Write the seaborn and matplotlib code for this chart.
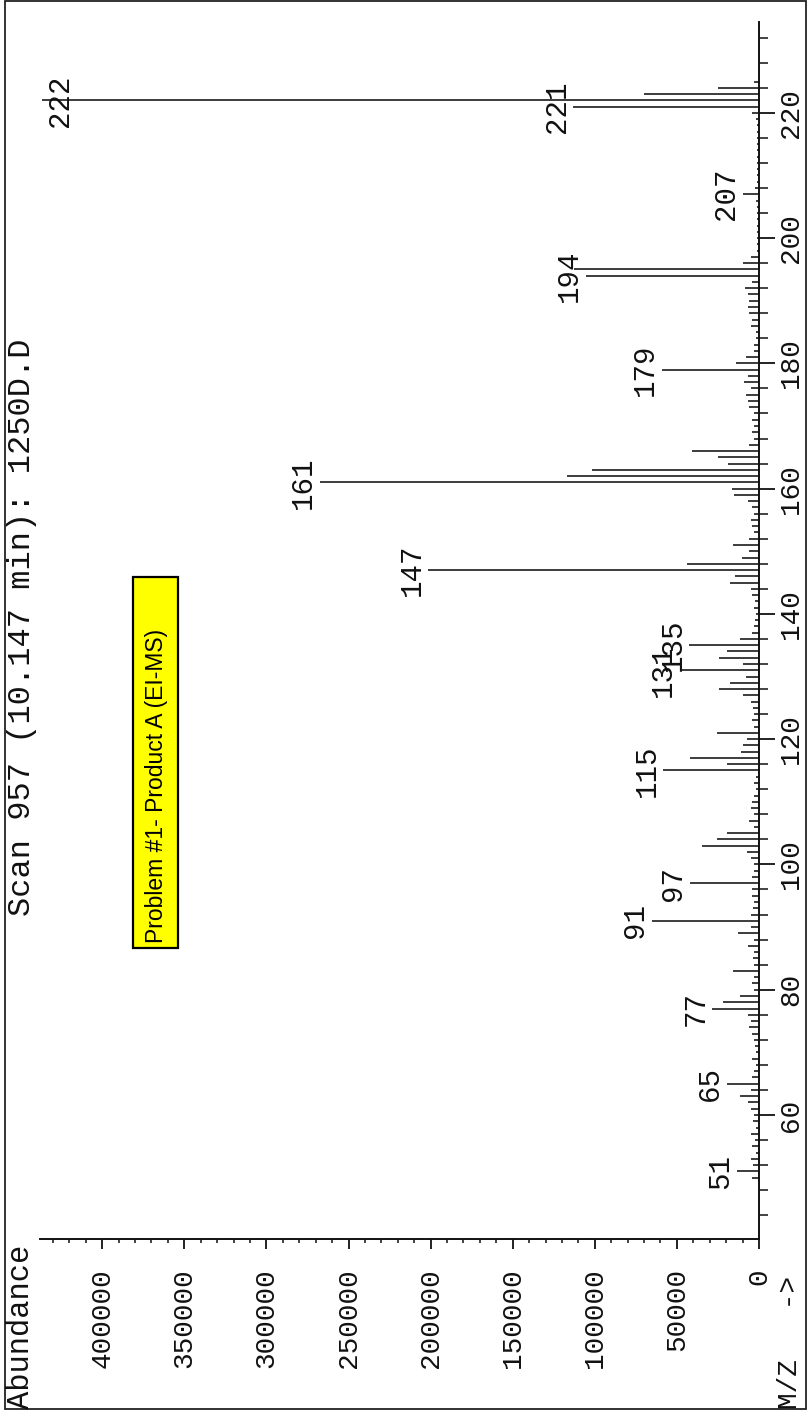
import numpy as np
import pandas as pd
import matplotlib
matplotlib.use("Agg")
import matplotlib.pyplot as plt
from matplotlib.patches import Rectangle
from matplotlib.ticker import MultipleLocator, FixedLocator
import seaborn as sns

# ---- data ----
mz = [50, 51, 52, 53, 54, 55, 56, 57, 58, 59, 60, 61, 62, 63, 64, 65, 66, 67, 68, 69,
      70, 71, 72, 73, 74, 75, 76, 77, 78, 79, 80, 81, 82, 83, 84, 85, 86, 87, 88, 89,
      90, 91, 92, 93, 94, 95, 96, 97, 98, 99, 100, 101, 102, 103, 104, 105, 106, 107, 108, 109,
      110, 111, 112, 113, 114, 115, 116, 117, 118, 119, 120, 121, 122, 123, 124, 125, 126, 127, 128, 129,
      130, 131, 132, 133, 134, 135, 136, 137, 138, 139, 140, 141, 142, 143, 144, 145, 146, 147, 148, 149,
      150, 151, 152, 153, 154, 155, 156, 157, 158, 159, 160, 161, 162, 163, 164, 165, 166, 167, 168, 169,
      170, 171, 172, 173, 174, 175, 176, 177, 178, 179, 180, 181, 182, 183, 184, 185, 186, 187, 188, 189,
      190, 191, 192, 193, 194, 195, 196, 197, 198, 199, 200, 201, 202, 203, 204, 205, 206, 207, 208, 209,
      210, 211, 212, 213, 214, 215, 216, 217, 218, 219, 220, 221, 222, 223, 224, 225]
abundance = [4500, 13600, 3500, 5000, 2000, 4000, 2500, 5000, 2000, 3500,
             3000, 5000, 6500, 11600, 5000, 19700, 4000, 3000, 2000, 4000,
             2000, 2500, 3000, 4500, 6000, 5000, 6500, 28500, 21700, 11600,
             3000, 4000, 3000, 15600, 3000, 3500, 3000, 7000, 3000, 12600,
             5000, 65300, 5000, 3500, 3000, 4500, 4000, 42000, 4000, 3000,
             3000, 5000, 7500, 35000, 25800, 19700, 3000, 6000, 3000, 5000,
             4000, 3000, 2000, 3000, 2000, 58300, 19700, 42000, 11000, 9700,
             7500, 25800, 3000, 4000, 3000, 3500, 5000, 9500, 24200, 17700,
             8000, 48100, 9500, 24200, 19700, 42400, 11600, 4000, 3000, 2500,
             2000, 3000, 2500, 4000, 5000, 17700, 14600, 201400, 44000, 10500,
             6000, 15600, 6000, 3000, 4000, 5000, 3000, 4000, 7000, 15000,
             16600, 267400, 116700, 101900, 18800, 25000, 41000, 6000, 3000, 4000,
             3000, 4000, 3000, 6000, 7000, 8000, 5000, 9000, 7000, 59300,
             14000, 8000, 3000, 3000, 2000, 2000, 5000, 4000, 6000, 7000,
             6000, 7000, 8500, 4000, 105400, 112500, 9700, 5000, 1500, 1000,
             1000, 1000, 1000, 1000, 1000, 1500, 2000, 9700, 2500, 1000,
             1000, 1000, 1000, 1000, 1000, 1000, 1000, 1000, 1500, 2000,
             4000, 113100, 436500, 69900, 25000, 3000]
label_mz = [51, 65, 77, 91, 97, 115, 131, 135, 147, 161, 179, 194, 207, 221, 222]
abund_ticks = [0, 50000, 100000, 150000, 200000, 250000, 300000, 350000, 400000]
mz_ticks = [60, 80, 100, 120, 140, 160, 180, 200, 220]

title = "Scan 957 (10.147 min): 1250D.D"
box_text = "Problem #1- Product A (EI-MS)"

df = pd.DataFrame({"mz": mz, "abundance": abundance})

sns.set_theme(style="ticks")
plt.rcParams["font.family"] = ["Liberation Mono", "DejaVu Sans Mono"]

W, H = 808, 1416
fig = plt.figure(figsize=(W / 100, H / 100), dpi=100)
fig.patch.set_facecolor("white")

def fx(px):
    return px / W

def fy(py):
    return 1 - py / H

ax = fig.add_axes([fx(40), fy(1239), fx(759) - fx(40), fy(22) - fy(1239)])
ax.set_facecolor("white")

# peaks as horizontal sticks (spectrum rotated 90 deg CCW)
ax.hlines(df["mz"], 0, df["abundance"], color="#111111", lw=1.15)

XMAX = 437900
ax.set_xlim(XMAX, 0)
ax.set_ylim(40.2, 234.5)

for s in ["top", "left"]:
    ax.spines[s].set_visible(False)
for s in ["bottom", "right"]:
    ax.spines[s].set_linewidth(1.4)
    ax.spines[s].set_color("#111111")

ax.yaxis.tick_right()
ax.set_xticks(abund_ticks)
ax.set_xticklabels([str(v) for v in abund_ticks])
ax.xaxis.set_minor_locator(MultipleLocator(10000))
ax.yaxis.set_major_locator(FixedLocator(mz_ticks))
ax.set_yticklabels([str(v) for v in mz_ticks])
ax.yaxis.set_minor_locator(MultipleLocator(4))

ax.tick_params(axis="x", which="major", length=7, width=1.3, direction="out",
               pad=14, labelsize=20, labelrotation=90, colors="#111111")
ax.tick_params(axis="x", which="minor", length=3, width=1.1, direction="out", colors="#111111")
ax.tick_params(axis="y", which="major", length=11.5, width=1.3, direction="out",
               pad=2, labelsize=20, labelrotation=90, right=True, left=False,
               labelright=True, labelleft=False, colors="#111111")
ax.tick_params(axis="y", which="minor", length=6.5, width=1.1, direction="out",
               right=True, left=False, colors="#111111")
for lbl in ax.get_yticklabels():
    lbl.set_va("center")
    lbl.set_ha("left")

ax.set_xlabel("")
ax.set_ylabel("")

# peak labels
for m in label_mz:
    a = df.loc[df["mz"] == m, "abundance"].iloc[0]
    if a > 0.95 * XMAX:
        ax.annotate(str(m), xy=(XMAX, m), xytext=(4, 0), textcoords="offset points",
                    rotation=90, ha="left", va="center", fontsize=21, color="#111111")
    else:
        ax.annotate(str(m), xy=(a, m), xytext=(-2, 0), textcoords="offset points",
                    rotation=90, ha="right", va="center", fontsize=21, color="#111111")

# title (rotated with the page)
fig.text(fx(22), fy(627), title, rotation=90, ha="center", va="center",
         fontsize=23, color="#111111")

# axis captions
fig.text(fx(21), fy(1409), "Abundance", rotation=90, ha="center", va="bottom",
         fontsize=22, color="#111111")
fig.text(fx(790), fy(1409), "M/Z   ->", rotation=90, ha="center", va="bottom",
         fontsize=20, color="#111111")

# yellow annotation box
fig.add_artist(Rectangle((fx(133), fy(948)), fx(178) - fx(133), fy(577) - fy(948),
                         transform=fig.transFigure, facecolor="#ffff00",
                         edgecolor="black", lw=1.6))
fig.text(fx(156), fy(943), box_text, rotation=90, ha="center", va="bottom",
         fontsize=16.5, family=["Liberation Sans", "DejaVu Sans"], color="black")

# page frame
fig.add_artist(Rectangle((fx(5), fy(1409)), fx(806) - fx(5), fy(1) - fy(1409),
                         transform=fig.transFigure, fill=False, edgecolor="#222222", lw=1.3))

fig.savefig("out.png", dpi=100, facecolor="white")
